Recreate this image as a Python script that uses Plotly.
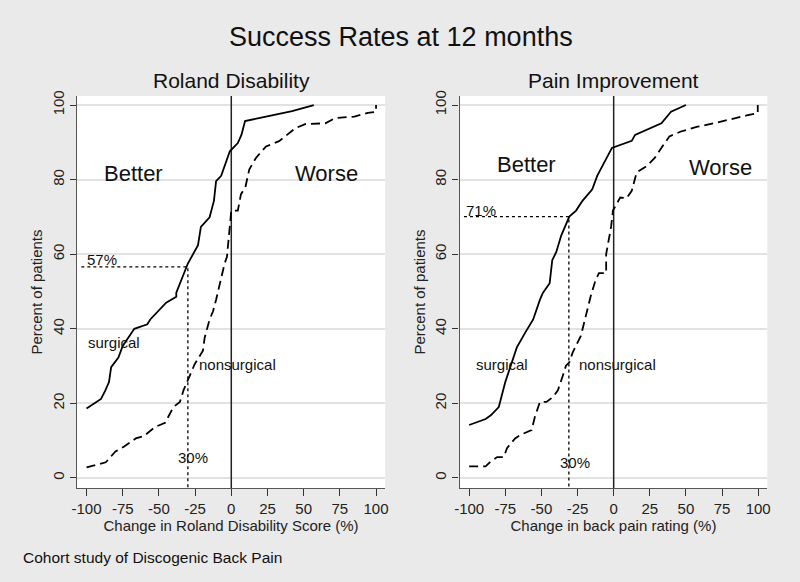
import plotly.graph_objects as go

# ---- Data ----
rd_surg_x = [-100, -90, -87, -84.5, -83, -78, -75, -67, -58, -56, -45, -38, -38, -33, -30, -23, -21, -15, -12, -10.5, -7, -1, 4.5, 7, 9.5, 24, 42, 57]
rd_surg_y = [18.6, 21.2, 23.5, 25.7, 29.7, 32.3, 35.4, 40, 41.2, 42.5, 47, 48.6, 49.7, 54.9, 57.5, 62.4, 67.3, 69.9, 74.3, 79.6, 81, 87.6, 89.8, 92, 95.7, 96.9, 98.4, 100]
rd_non_x = [-100, -92.5, -86.7, -80, -74, -66, -60.5, -52.5, -45.7, -40, -35.5, -33, -30, -25.3, -19.6, -18.4, -15, -12.6, -10.5, -8, -4.6, -3, -1.3, 0, 4.5, 6.7, 9.7, 12.4, 17, 24, 33, 37.5, 44.3, 51, 65, 71.6, 85, 94.3, 100, 100]
rd_non_y = [2.8, 3.6, 4.2, 7.1, 8.4, 10.6, 11.2, 13.7, 14.8, 19, 20.4, 23.5, 26.1, 30.5, 34.1, 37.6, 42.5, 44.7, 47.8, 52.2, 57.5, 59.3, 66.4, 71.7, 71.7, 76.1, 77.9, 82.7, 85.8, 88.9, 90.3, 91.6, 93.8, 94.9, 95.1, 96.5, 96.9, 97.9, 98.2, 100]

pi_surg_x = [-100, -88.6, -85, -79.5, -75, -67, -61.3, -55.7, -51, -49, -44.3, -42.5, -39.7, -36.3, -30.7, -26, -21.6, -14.8, -11.4, -1.2, 12.5, 14.8, 33, 39.7, 50]
pi_surg_y = [14.2, 15.8, 16.8, 19, 25.7, 35, 38.9, 42.5, 47.8, 49.6, 52.2, 58.4, 60.6, 65, 70.1, 71.7, 74.3, 77.4, 81, 88.5, 90.4, 92, 95.1, 98.2, 100]
pi_non_x = [-100, -88.6, -85.2, -80.6, -76, -73.8, -68.2, -64.8, -56.8, -54.5, -51, -46.5, -42, -38.6, -35.2, -33, -30.7, -28.4, -22.7, -20.5, -18.2, -15.9, -12.5, -10.2, -5.2, -5.2, -1.8, -1.2, -0.5, 4.5, 8.9, 12.5, 15.9, 22.7, 28.4, 33, 38.6, 46.5, 58, 69.3, 80.6, 92, 99.7, 99.7]
pi_non_y = [3.1, 3.1, 4.4, 5.6, 5.6, 8, 10.6, 11.5, 12.8, 16.4, 20.4, 20.4, 21.7, 23.5, 27.4, 30.1, 31, 33.6, 38.1, 41.6, 44.7, 48.7, 53.1, 54.9, 54.9, 60, 67.3, 69.9, 71.7, 75.2, 75, 77, 81.9, 83.6, 85.8, 88.5, 91.6, 92.9, 94.2, 95.1, 96.2, 97.2, 97.8, 100]

x_ticks = [-100, -75, -50, -25, 0, 25, 50, 75, 100]
x_tick_labels = ["-100", "-75", "-50", "-25", "0", "25", "50", "75", "100"]
y_ticks = [0, 20, 40, 60, 80, 100]
rd_threshold = [-30, 56.6]
pi_threshold = [-31, 70.1]

BG = "#eaeaea"
FONT = "Liberation Sans, Arial, sans-serif"
XR = [-106.6, 106.3]
YR = [-2.7, 102.4]

fig = go.Figure()

def add_panel(xa, ya, sx, sy, nx, ny, thr):
    fig.add_trace(go.Scatter(x=[0, 0], y=[YR[0], YR[1]], mode="lines",
                             line=dict(color="#222222", width=1.5),
                             xaxis=xa, yaxis=ya, showlegend=False, hoverinfo="skip"))
    fig.add_trace(go.Scatter(x=[XR[0] + 3, thr[0], thr[0]], y=[thr[1], thr[1], YR[0]], mode="lines",
                             line=dict(color="black", width=1.3, dash="dot"),
                             xaxis=xa, yaxis=ya, showlegend=False, hoverinfo="skip"))
    fig.add_trace(go.Scatter(x=sx, y=sy, mode="lines", line=dict(color="black", width=1.8),
                             xaxis=xa, yaxis=ya, showlegend=False, hoverinfo="skip"))
    fig.add_trace(go.Scatter(x=nx, y=ny, mode="lines", line=dict(color="black", width=1.8, dash="9px,5px"),
                             xaxis=xa, yaxis=ya, showlegend=False, hoverinfo="skip"))

add_panel("x", "y", rd_surg_x, rd_surg_y, rd_non_x, rd_non_y, rd_threshold)
add_panel("x2", "y2", pi_surg_x, pi_surg_y, pi_non_x, pi_non_y, pi_threshold)

ax_common = dict(range=XR, tickvals=x_ticks, ticktext=x_tick_labels, ticks="outside", ticklen=7,
                 tickcolor="#333", showline=True, linecolor="#555", linewidth=1.3, showgrid=False,
                 zeroline=False, tickfont=dict(size=15, color="#222", family=FONT))
ay_common = dict(range=YR, tickvals=y_ticks, ticks="outside", ticklen=6, tickcolor="#333",
                 showline=True, linecolor="#555", linewidth=1.3, showgrid=True, gridcolor="#e2e2e2",
                 gridwidth=2, zeroline=False, tickangle=-90,
                 tickfont=dict(size=15, color="#222", family=FONT),
                 title=dict(text="Percent of patients", font=dict(size=15, color="#222", family=FONT), standoff=3))

fig.update_layout(
    width=800, height=582,
    paper_bgcolor=BG, plot_bgcolor="white",
    margin=dict(l=0, r=0, t=0, b=0),
    font=dict(family=FONT, color="#222"),
    xaxis=dict(domain=[0.0909, 0.48], anchor="y",
               title=dict(text="Change in Roland Disability Score (%)", font=dict(size=15, family=FONT), standoff=0),
               **ax_common),
    yaxis=dict(domain=[0.1632, 0.8436], anchor="x", **ay_common),
    xaxis2=dict(domain=[0.574, 0.9625], anchor="y2",
                title=dict(text="Change in back pain rating (%)", font=dict(size=15, family=FONT), standoff=0),
                **ax_common),
    yaxis2=dict(domain=[0.1632, 0.8436], anchor="x2", **ay_common),
    showlegend=False,
)

ann = []
def txt(text, x, y, xref, yref, size=15, xanchor="center", yanchor="middle"):
    ann.append(dict(text=text, x=x, y=y, xref=xref, yref=yref, showarrow=False,
                    xanchor=xanchor, yanchor=yanchor, font=dict(size=size, color="#111", family=FONT)))

txt("Success Rates at 12 months", 0.5, 1 - 31 / 582, "paper", "paper", size=27)
txt("Roland Disability", 0.2855, 1 - 75 / 582, "paper", "paper", size=21)
txt("Pain Improvement", 0.768, 1 - 75 / 582, "paper", "paper", size=21)
txt("Cohort study of Discogenic Back Pain", 16 / 800, 1 - 557 / 582, "paper", "paper", size=15.5, xanchor="left")

txt("Better", -67.4, 81.6, "x", "y", size=22)
txt("Worse", 65.7, 81.6, "x", "y", size=22)
txt("57%", -89, 58.6, "x", "y")
txt("surgical", -81, 36.3, "x", "y")
txt("nonsurgical", -23.5, 30.5, "x", "y", xanchor="left")
txt("30%", -26.4, 5.5, "x", "y")
txt("Better", -60.2, 84, "x2", "y2", size=22)
txt("Worse", 73.8, 83.2, "x2", "y2", size=22)
txt("71%", -92, 71.7, "x2", "y2")
txt("surgical", -77.2, 30.5, "x2", "y2")
txt("nonsurgical", -25.3, 30.5, "x2", "y2", xanchor="left")
txt("30%", -26.6, 4.2, "x2", "y2")

fig.update_layout(annotations=ann)

post = (
    "document.documentElement.style.margin='0';"
    "document.body.style.margin='0';document.body.style.padding='0';"
    "document.body.style.background='" + BG + "';"
    "var g=document.getElementById('{plot_id}');"
    "g.style.position='fixed';g.style.left='0px';g.style.top='0px';"
)
fig.write_html("out.html", config={"displayModeBar": False}, post_script=post)
